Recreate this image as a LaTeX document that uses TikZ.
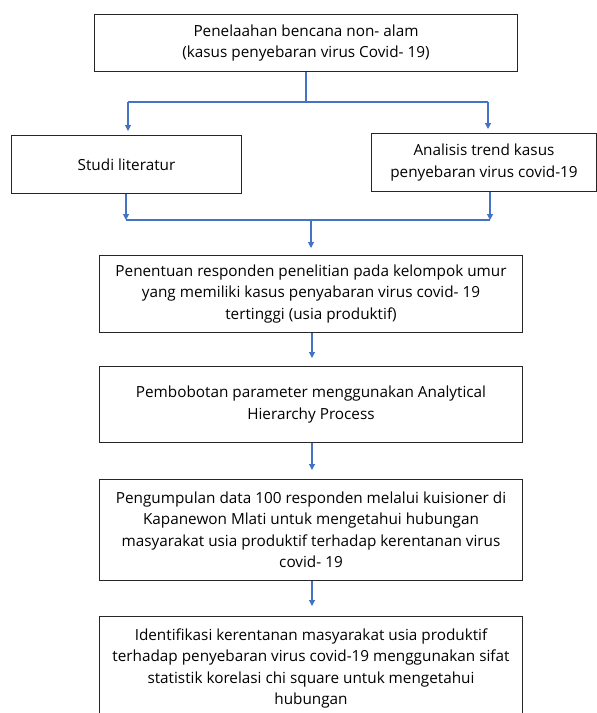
\documentclass[tikz,border=0pt]{standalone}
\usepackage{fontspec}
\setmainfont{Open Sans}
\usetikzlibrary{arrows.meta}
\definecolor{conn}{HTML}{4472C4}
\begin{document}
\begin{tikzpicture}[x=1pt,y=-1pt,
  box/.style={draw=black!85,line width=1pt,align=center,font=\fontsize{15.3}{21.5}\selectfont,inner sep=0pt,anchor=north west},
  link/.style={draw=conn,line width=1.1pt},
  arr/.style={link,-{Triangle[width=6pt,length=6pt]}}]
\useasboundingbox (0,0) rectangle (597,713);
\node[box,minimum width=423pt,minimum height=57pt] (b1) at (94,14) {Penelaahan bencana non- alam\\(kasus penyebaran virus Covid- 19)};
\node[box,minimum width=230pt,minimum height=58pt] (b2) at (11,135) {Studi literatur};
\node[box,minimum width=225pt,minimum height=58pt] (b3) at (371,133) {Analisis trend kasus\\penyebaran virus covid-19};
\node[box,minimum width=423pt,minimum height=77pt] (b4) at (99,255) {Penentuan responden penelitian pada kelompok umur\\yang memiliki kasus penyabaran virus covid- 19\\tertinggi (usia produktif)};
\node[box,minimum width=423pt,minimum height=76pt] (b5) at (99,366) {Pembobotan parameter menggunakan Analytical\\Hierarchy Process};
\node[box,minimum width=423pt,minimum height=101pt] (b6) at (99,479) {Pengumpulan data 100 responden melalui kuisioner di\\Kapanewon Mlati untuk mengetahui hubungan\\masyarakat usia produktif terhadap kerentanan virus\\covid- 19};
\node[box,minimum width=423pt,minimum height=104pt] (b7) at (99,616) {Identifikasi kerentanan masyarakat usia produktif\\terhadap penyebaran virus covid-19 menggunakan sifat\\statistik korelasi chi square untuk mengetahui\\hubungan};
% split
\coordinate (s) at (306,102);
\coordinate (sl) at (128,102);
\coordinate (sr) at (488,102);
\draw[link] (b1.south -| s) -- (s);
\draw[link] (sl) -- (sr);
\draw[arr] (sl) -- ([yshift=4pt]sl |- b2.north);
\draw[arr] (sr) -- ([yshift=4pt]sr |- b3.north);
% merge
\coordinate (ml) at (126,220);
\coordinate (mr) at (490,220);
\coordinate (mc) at (311,220);
\draw[link] (ml) -- (mr);
\draw[arr] (ml |- b2.south) -- (ml);
\draw[arr] (mr |- b3.south) -- (mr);
\draw[arr] (mc) -- ([yshift=7pt]mc |- b4.north);
% chain
\draw[arr] (b4.south -| 312,0) -- ([yshift=8pt]b5.north -| 312,0);
\draw[arr] (b5.south -| 312,0) -- ([yshift=9pt]b6.north -| 312,0);
\draw[arr] (b6.south -| 312,0) -- ([yshift=10pt]b7.north -| 312,0);
\end{tikzpicture}
\end{document}
